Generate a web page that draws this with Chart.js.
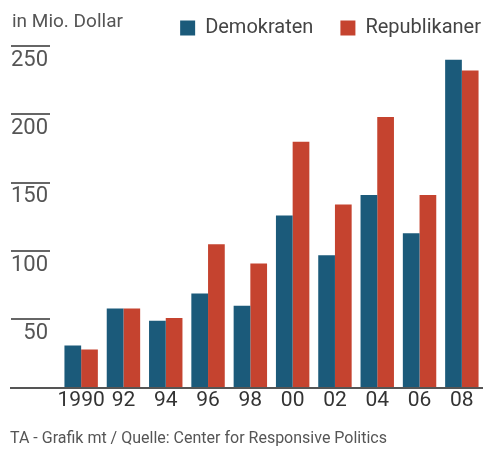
<!DOCTYPE html>
<html>
<head>
<meta charset="utf-8">
<script src="https://cdn.jsdelivr.net/npm/chart.js@4"></script>
<style>
  html, body { margin: 0; padding: 0; background: #fff; }
  #wrap { position: relative; width: 483px; height: 450px; }
  #unit { position: absolute; left: 12px; top: 9px; font: 19px Roboto, sans-serif; color: #555; }
  #source { position: absolute; left: 10px; top: 428px; font: 16px Roboto, sans-serif; color: #555; }
</style>
</head>
<body>
<div id="wrap">
  <canvas id="chart" width="483" height="450"></canvas>
  <div id="unit">in Mio. Dollar</div>
  <div id="source">TA - Grafik mt / Quelle: Center for Responsive Politics</div>
</div>
<script>
// Wahlkampfspenden, in Mio. Dollar
const years = ['1990', '92', '94', '96', '98', '00', '02', '04', '06', '08'];
const demokraten = [31, 58, 49, 69, 60, 126, 97, 141, 113, 240];
const republikaner = [28, 58, 51, 105, 91, 180, 134, 198, 141, 232];
const yTicks = [50, 100, 150, 200, 250];

// short rules above the y labels + baseline across the full width
const tickRules = {
    id: 'tickRules',
    afterLayout(chart) {
        // push the legend to the right edge and a bit down
        chart.legend.left += 25;
        chart.legend.right += 25;
        chart.legend.top += 2;
        chart.legend.bottom += 2;
    },
    afterDraw(chart) {
        const ctx = chart.ctx;
        const y = chart.scales.y;
        ctx.save();
        ctx.strokeStyle = '#666';
        ctx.lineWidth = 2;
        yTicks.forEach(function (v) {
            const py = Math.round(y.getPixelForValue(v));
            ctx.beginPath();
            ctx.moveTo(11, py);
            ctx.lineTo(50, py);
            ctx.stroke();
        });
        const base = Math.round(y.getPixelForValue(0));
        ctx.strokeStyle = '#555';
        ctx.beginPath();
        ctx.moveTo(10, base);
        ctx.lineTo(chart.chartArea.right, base);
        ctx.stroke();
        ctx.restore();
    }
};

new Chart(document.getElementById('chart'), {
    type: 'bar',
    data: {
        labels: years,
        datasets: [{
            label: 'Demokraten',
            data: demokraten,
            backgroundColor: '#1b5a7a'
        }, {
            label: 'Republikaner',
            data: republikaner,
            backgroundColor: '#c5432f'
        }]
    },
    options: {
        responsive: false,
        animation: false,
        categoryPercentage: 0.79,
        barPercentage: 1.0,
        layout: {
            padding: { left: 11, right: 0, top: -11, bottom: 37 }
        },
        plugins: {
            legend: {
                position: 'top',
                align: 'end',
                labels: {
                    boxWidth: 15,
                    boxHeight: 15,
                    color: '#444',
                    padding: 27,
                    font: { family: 'Roboto', size: 20 }
                }
            },
            tooltip: { enabled: false }
        },
        scales: {
            x: {
                grid: { display: false, drawTicks: false },
                border: { display: false },
                ticks: {
                    color: '#333',
                    padding: 0,
                    maxRotation: 0,
                    autoSkip: false,
                    font: { family: 'Roboto', size: 21 }
                }
            },
            y: {
                min: 0,
                max: 250,
                grid: { display: false, drawTicks: false },
                border: { display: false },
                afterBuildTicks: function (axis) {
                    axis.ticks = [0].concat(yTicks).map(function (v) { return { value: v }; });
                },
                afterFit: function (axis) {
                    axis.width = 49;
                },
                ticks: {
                    color: '#555',
                    padding: 12,
                    labelOffset: 14,
                    font: { family: 'Roboto', size: 22 },
                    callback: function (v) { return v === 0 ? '' : v; }
                }
            }
        }
    },
    plugins: [tickRules]
});
</script>
</body>
</html>
